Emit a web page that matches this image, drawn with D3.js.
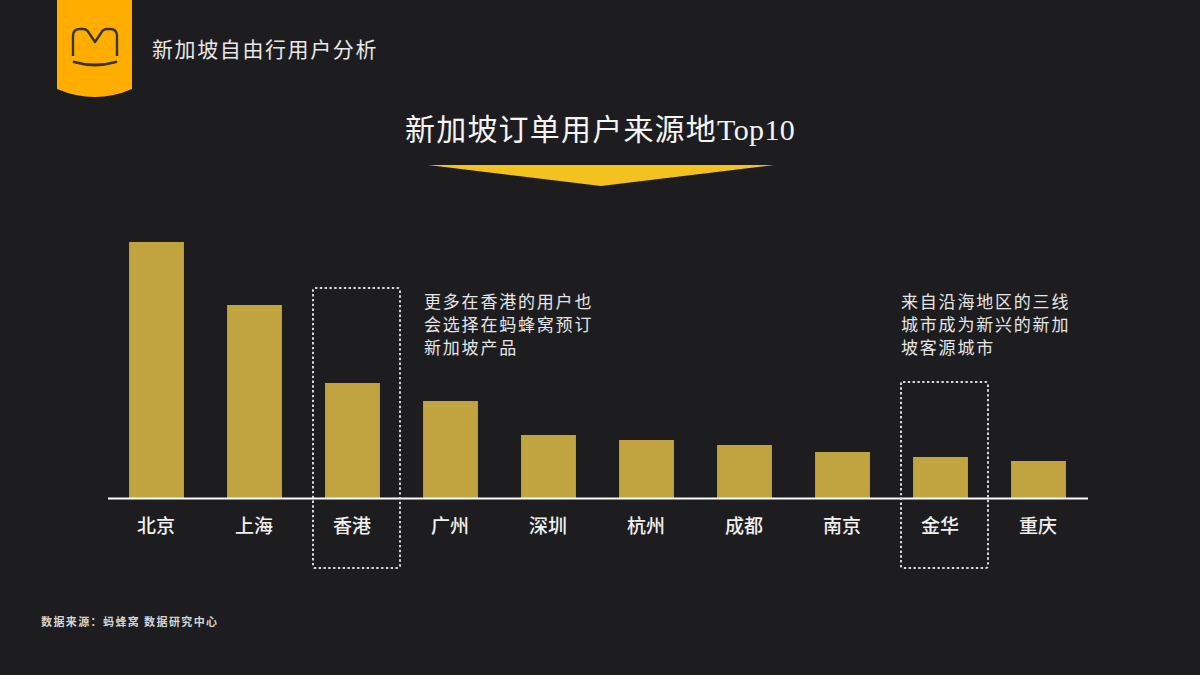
<!DOCTYPE html>
<html>
<head>
<meta charset="utf-8">
<script src="https://cdn.jsdelivr.net/npm/d3@7"></script>
<style>
body { margin: 0; padding: 0; overflow: hidden; background: #1d1d1f; }
text { font-family: "Noto Sans CJK SC", sans-serif; }
</style>
</head>
<body>
<script>
const cities = ["北京","上海","香港","广州","深圳","杭州","成都","南京","金华","重庆"];
const orders = [256,193,115,97,63,58,53,46,41,37];
const boxedCities = [
  {city:"香港", top:288},
  {city:"金华", top:382}
];
const noteHongKong = ["更多在香港的用户也","会选择在蚂蜂窝预订","新加坡产品"];
const noteJinhua = ["来自沿海地区的三线","城市成为新兴的新加","坡客源城市"];

const svg = d3.select("body").append("svg").attr("width",1200).attr("height",675);
svg.append("rect").attr("width",1200).attr("height",675).attr("fill","#1d1d1f");

const x = d3.scaleBand().domain(cities).range([107.5,1087.5]).paddingInner(0.44).paddingOuter(0.22);
const y = d3.scaleLinear().domain([0,256]).range([498,242]);

// logo tab
const logo = svg.append("g");
logo.append("path").attr("d","M57,0H132V89Q95,105 57,89Z").attr("fill","#ffae00");
logo.append("path").attr("d","M73,56V36Q73,29 80,29H83Q87,29 89,33L95,42L101,33Q103,29 107,29H110Q117,29 117,36V56")
  .attr("fill","none").attr("stroke","#3a3428").attr("stroke-width",2.4).attr("stroke-linejoin","round");
logo.append("path").attr("d","M74,62Q95,68 116,62")
  .attr("fill","none").attr("stroke","#3a3428").attr("stroke-width",2.8).attr("stroke-linecap","round");

svg.append("text").attr("x",152).attr("y",57).attr("fill","#e8e8e8")
  .attr("font-size",21).attr("letter-spacing",1.6).text("新加坡自由行用户分析");

const title = svg.append("text").attr("x",405).attr("y",140).attr("fill","#f4f4f4")
  .attr("font-size",30).attr("letter-spacing",1.2);
title.append("tspan").text("新加坡订单用户来源地");
title.append("tspan").style("font-family","'Liberation Serif',serif").attr("font-size",30).attr("letter-spacing",0.4).text("Top10");

svg.append("path").attr("d","M428,165H774L601,186Z").attr("fill","#f3c21f");

// bars
svg.selectAll(".bar").data(cities).enter().append("rect").attr("class","bar")
  .attr("x",d=>x(d))
  .attr("y",(d,i)=>y(orders[i]))
  .attr("width",x.bandwidth())
  .attr("height",(d,i)=>y(0)-y(orders[i]))
  .attr("fill","#c1a33f");

// axis
const axis = svg.append("g").attr("transform","translate(0,498)")
  .call(d3.axisBottom(x).tickSize(0).tickPadding(22));
axis.select(".domain").attr("stroke","#fff").attr("stroke-width",2);
axis.selectAll("text").attr("fill","#f0f0f0").attr("font-size",19).attr("font-weight",500).attr("dx",-0.5)
  .style("font-family","'Noto Sans CJK SC',sans-serif");

// dotted highlight boxes
svg.selectAll(".box").data(boxedCities).enter().append("rect").attr("class","box")
  .attr("x",d=>x(d.city)+x.bandwidth()/2-39.5)
  .attr("y",d=>d.top)
  .attr("width",87)
  .attr("height",d=>568-d.top)
  .attr("rx",2)
  .attr("fill","none")
  .attr("stroke","#d8d8d8")
  .attr("stroke-width",2)
  .attr("stroke-dasharray","2.4 2.4");

function note(lines,left){
  svg.append("g").selectAll("text").data(lines).enter().append("text")
    .attr("x",left)
    .attr("y",(d,i)=>308+i*23)
    .attr("fill","#e6e6e6")
    .attr("font-size",17)
    .attr("letter-spacing",1.8)
    .text(d=>d);
}
note(noteHongKong,424);
note(noteJinhua,901);

svg.append("text").attr("x",41).attr("y",626).attr("fill","#d4d4d4")
  .attr("font-size",11).attr("font-weight",700).attr("letter-spacing",1.4).text("数据来源：蚂蜂窝 数据研究中心");
</script>
</body>
</html>
